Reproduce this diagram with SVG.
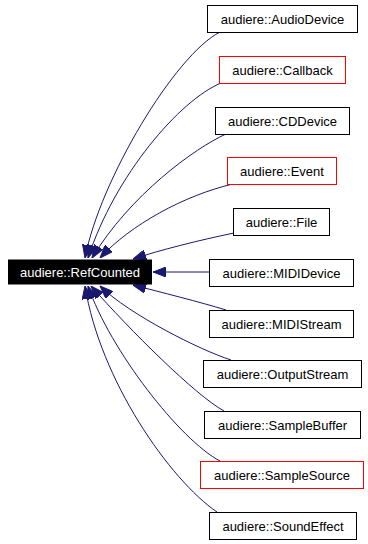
<svg xmlns="http://www.w3.org/2000/svg" width="368" height="544" viewBox="0 0 368 544">
  <style>
    .box { fill: #ffffff; stroke: #000000; stroke-width: 1; }
    .box.doc { stroke: #ff0000; }
    .root { fill: #000000; stroke: #000000; stroke-width: 1; }
    .lbl { font-family: "Liberation Sans", Arial, sans-serif; font-size: 13px; fill: #000000; text-anchor: middle; }
    .root-lbl { fill: #ffffff; }
    .edge { fill: none; stroke: #191970; stroke-width: 1; marker-end: url(#arrow); }
  </style>
  <defs>
    <marker id="arrow" viewBox="0 0 13 10" refX="13" refY="5" markerWidth="13" markerHeight="10" markerUnits="userSpaceOnUse" orient="auto">
      <path d="M0,0 L13,5 L0,10 Z" fill="#191970" stroke="#191970" stroke-width="1"/>
    </marker>
  </defs>
  <rect width="368" height="544" fill="#ffffff"/>

  <!-- inheritance edges: derived class -> audiere::RefCounted -->
  <g id="edges">
    <path class="edge" d="M220,32 C175,55 100,180 85,258"/>
    <path class="edge" d="M221,83 C180,100 115,175 88,258"/>
    <path class="edge" d="M226,134 C195,148 130,195 92,258"/>
    <path class="edge" d="M233,184 C185,195 130,225 100,258"/>
    <path class="edge" d="M234,233 C200,240 160,250 133,259"/>
    <path class="edge" d="M209,272 L153,272"/>
    <path class="edge" d="M226,310 C200,302 160,292 133,285"/>
    <path class="edge" d="M231,360 C200,350 130,315 100,286"/>
    <path class="edge" d="M224,411 C195,395 130,330 91,286"/>
    <path class="edge" d="M220,461 C180,440 110,350 88,286"/>
    <path class="edge" d="M217,512 C170,480 100,380 85,286"/>
  </g>

  <g id="RefCounted">
    <rect class="root" x="8.5" y="260" width="143" height="24"/>
    <text class="lbl root-lbl" x="80" y="277">audiere::RefCounted</text>
  </g>

  <g id="AudioDevice">
    <rect class="box" x="207.5" y="5.5" width="150" height="27"/>
    <text class="lbl" x="282.5" y="23.5">audiere::AudioDevice</text>
  </g>
  <g id="Callback">
    <rect class="box doc" x="219.5" y="56.5" width="126" height="27"/>
    <text class="lbl" x="282.5" y="74.5">audiere::Callback</text>
  </g>
  <g id="CDDevice">
    <rect class="box" x="215.5" y="107.5" width="134" height="27"/>
    <text class="lbl" x="282.5" y="125.5">audiere::CDDevice</text>
  </g>
  <g id="Event">
    <rect class="box doc" x="227.5" y="157.5" width="109" height="27"/>
    <text class="lbl" x="282" y="175.5">audiere::Event</text>
  </g>
  <g id="File">
    <rect class="box" x="233.5" y="208.5" width="96" height="27"/>
    <text class="lbl" x="281.5" y="226.5">audiere::File</text>
  </g>
  <g id="MIDIDevice">
    <rect class="box" x="209.5" y="259.5" width="144" height="27"/>
    <text class="lbl" x="281.5" y="277.5">audiere::MIDIDevice</text>
  </g>
  <g id="MIDIStream">
    <rect class="box" x="209.5" y="310.5" width="144" height="27"/>
    <text class="lbl" x="281.5" y="328.5">audiere::MIDIStream</text>
  </g>
  <g id="OutputStream">
    <rect class="box" x="203.5" y="360.5" width="158" height="27"/>
    <text class="lbl" x="282.5" y="378.5">audiere::OutputStream</text>
  </g>
  <g id="SampleBuffer">
    <rect class="box" x="204.5" y="411.5" width="156" height="27"/>
    <text class="lbl" x="282.5" y="429.5">audiere::SampleBuffer</text>
  </g>
  <g id="SampleSource">
    <rect class="box doc" x="200.5" y="461.5" width="163" height="27"/>
    <text class="lbl" x="282" y="479.5">audiere::SampleSource</text>
  </g>
  <g id="SoundEffect">
    <rect class="box" x="209.5" y="512.5" width="147" height="27"/>
    <text class="lbl" x="283" y="530.5">audiere::SoundEffect</text>
  </g>
</svg>
